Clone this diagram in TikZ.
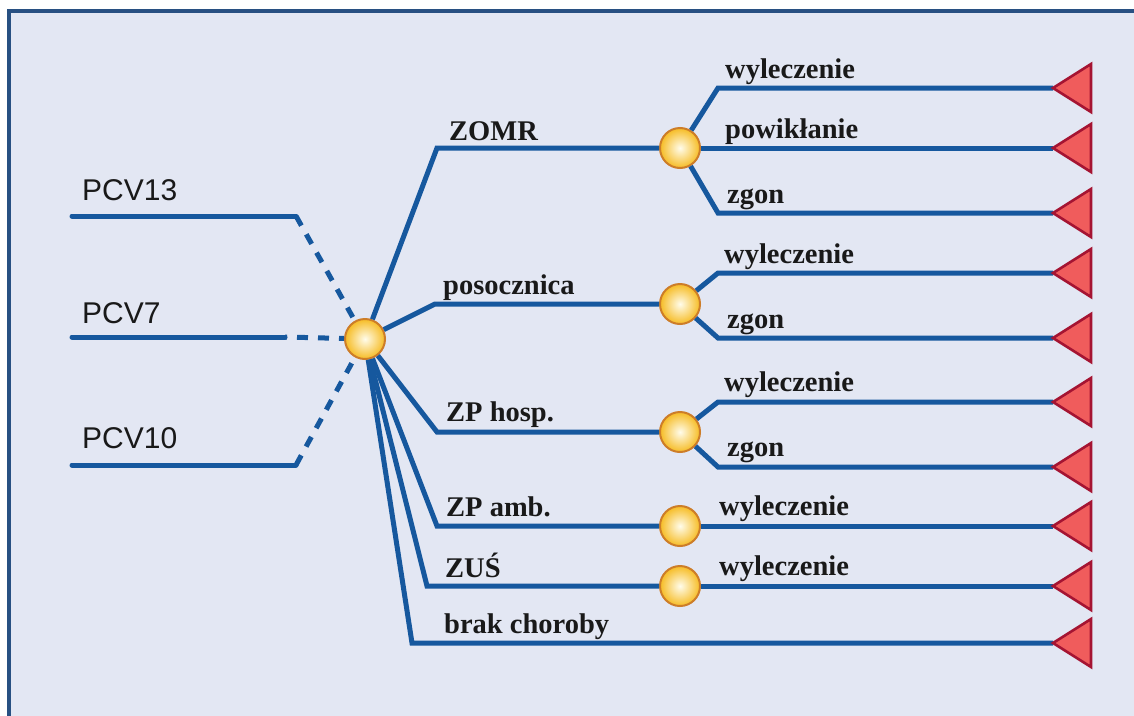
\documentclass[tikz,border=0pt]{standalone}
\usepackage{fontspec}
\setmainfont{Liberation Serif}
\newfontfamily\pcvfont{Liberation Sans}
\definecolor{bgcol}{RGB}{227,231,243}
\definecolor{linecol}{RGB}{22,88,158}
\definecolor{framecol}{RGB}{40,80,130}
\definecolor{trifill}{RGB}{240,92,92}
\definecolor{tridraw}{RGB}{165,20,50}
\definecolor{ballin}{RGB}{255,252,235}
\definecolor{ballout}{RGB}{246,188,36}
\definecolor{balldraw}{RGB}{205,125,40}
\tikzset{
  branch/.style={draw=linecol, line width=5pt, line join=miter},
  dashbranch/.style={draw=linecol, line width=5pt, dash pattern=on 11pt off 10pt},
  startline/.style={draw=linecol, line width=5pt, line cap=round},
  ball/.style={circle, minimum size=40pt, inner sep=0pt, draw=balldraw, line width=2pt, inner color=ballin, outer color=ballout},
  endtri/.style={fill=trifill, draw=tridraw, line width=2.6pt, line join=miter},
  lab/.style={anchor=base west, inner sep=0pt, font=\fontsize{28.5}{31}\selectfont\bfseries, text=black!90},
  pcvlab/.style={anchor=base west, inner sep=0pt, font=\pcvfont\fontsize{30}{34}\selectfont, text=black!90}
}
\begin{document}
\begin{tikzpicture}[x=1pt,y=-1pt]
\useasboundingbox (0,0) rectangle (1134,715);
\fill[white] (0,0) rectangle (1134,715);
\fill[bgcol] (9,11) rectangle (1140,720);
\draw[framecol, line width=3.5pt] (9,725) -- (9,11) -- (1140,11);

% nodes
\node[ball] (hub) at (365,339) {};
\node[ball] (c1) at (680,148) {};
\node[ball] (c2) at (680,304) {};
\node[ball] (c3) at (680,432) {};
\node[ball] (c4) at (680,526) {};
\node[ball] (c5) at (680,586) {};

% left start lines
\coordinate (s13) at (72,216);  \coordinate (k13) at (296,216);
\coordinate (s7) at (72,337);   \coordinate (k7) at (285,337);
\coordinate (s10) at (72,465);  \coordinate (k10) at (296,465);
\draw[startline] (s13) -- (k13);
\draw[startline] (s7) -- (k7);
\draw[startline] (s10) -- (k10);
\draw[dashbranch] (k13) -- (hub);
\draw[dashbranch, dash phase=-12pt] (k7) -- (hub);
\draw[dashbranch] (k10) -- (hub);

% triangle tips
\foreach \n/\y in {t1/88,t2/148,t3/213,t4/273,t5/338,t6/402,t7/467,t8/526,t9/586,t10/643}
  \coordinate (\n) at (1053,\y);

% first level branches
\coordinate (b1) at (437,148);
\coordinate (b2) at (435,304);
\coordinate (b3) at (437,432);
\coordinate (b4) at (437,526);
\coordinate (b5) at (427,586);
\coordinate (b6) at (412,643);
\draw[branch] (hub) -- (b1) -- (c1);
\draw[branch] (hub) -- (b2) -- (c2);
\draw[branch] (hub) -- (b3) -- (c3);
\draw[branch] (hub) -- (b4) -- (c4);
\draw[branch] (hub) -- (b5) -- (c5);
\draw[branch] (hub) -- (b6) -- (t10);

% second level branches
\coordinate (d1) at (718,88);
\coordinate (d3) at (718,213);
\coordinate (d4) at (718,273);
\coordinate (d5) at (718,338);
\coordinate (d6) at (718,402);
\coordinate (d7) at (718,467);
\draw[branch] (c1) -- (d1) -- (t1);
\draw[branch] (c1) -- (t2);
\draw[branch] (c1) -- (d3) -- (t3);
\draw[branch] (c2) -- (d4) -- (t4);
\draw[branch] (c2) -- (d5) -- (t5);
\draw[branch] (c3) -- (d6) -- (t6);
\draw[branch] (c3) -- (d7) -- (t7);
\draw[branch] (c4) -- (t8);
\draw[branch] (c5) -- (t9);

% triangles
\foreach \n in {t1,t2,t3,t4,t5,t6,t7,t8,t9,t10}
  \draw[endtri] (\n) -- ++(38,-24) -- ++(0,48) -- cycle;

% labels
\node[pcvlab] (l13) at (82,200) {PCV13};
\node[pcvlab] (l7) at (82,323) {PCV7};
\node[pcvlab] (l10) at (82,448) {PCV10};

\node[lab] (n1) at (449,140) {ZOMR};
\node[lab] (n2) at (443,294) {posocznica};
\node[lab] (n3) at (446,421) {ZP hosp.};
\node[lab] (n4) at (446,516) {ZP amb.};
\node[lab] (n5) at (445,577) {ZUŚ};
\node[lab] (n6) at (444,633) {brak choroby};

\node[lab] (o1) at (725,78) {wyleczenie};
\node[lab] (o2) at (725,138) {powikłanie};
\node[lab] (o3) at (727,203) {zgon};
\node[lab] (o4) at (724,263) {wyleczenie};
\node[lab] (o5) at (727,328) {zgon};
\node[lab] (o6) at (724,391) {wyleczenie};
\node[lab] (o7) at (727,456) {zgon};
\node[lab] (o8) at (719,515) {wyleczenie};
\node[lab] (o9) at (719,575) {wyleczenie};
\end{tikzpicture}
\end{document}
